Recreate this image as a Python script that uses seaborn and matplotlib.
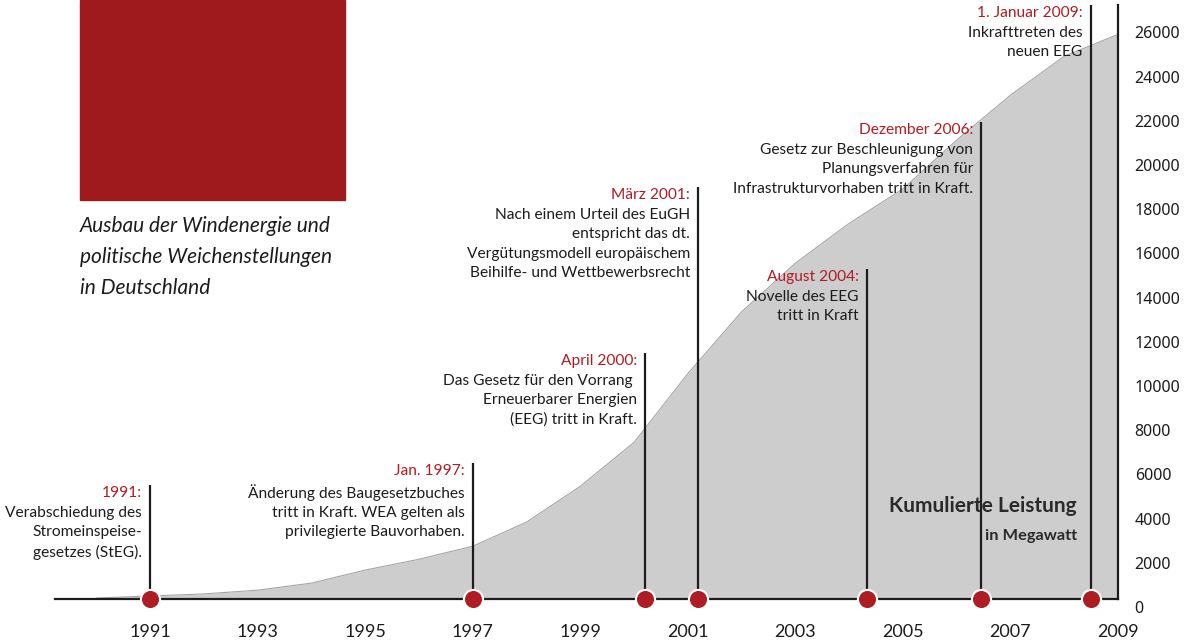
import matplotlib
matplotlib.use('Agg')
import matplotlib.pyplot as plt
import matplotlib.transforms as mtransforms
from matplotlib.patches import Rectangle
import seaborn as sns
import pandas as pd

# cumulative wind capacity (MW)
years = [1990, 1991, 1992, 1993, 1994, 1995, 1996, 1997, 1998, 1999,
         2000, 2001, 2002, 2003, 2004, 2005, 2006, 2007, 2008, 2009]
capacity_mw = [45, 135, 230, 400, 720, 1310, 1800, 2390, 3480, 5100,
               7090, 10200, 13000, 15200, 17000, 18560, 20770, 22800, 24560, 25550]

# policy events: position on the time axis and height of the marker line
event_year = [1991.0, 1997.0, 2000.2, 2001.19, 2004.33, 2006.45, 2008.49]
event_top = [5160, 6150, 11130, 18640, 14930, 21580, 26880]
event_dates = ['1991:', 'Jan. 1997:', 'April 2000:', 'März 2001:',
               'August 2004:', 'Dezember 2006:', '1. Januar 2009:']
event_texts = [
    'Verabschiedung des\nStromeinspeise-\ngesetzes (StEG).',
    'Änderung des Baugesetzbuches\ntritt in Kraft. WEA gelten als\nprivilegierte Bauvorhaben.',
    'Das Gesetz für den Vorrang \nErneuerbarer Energien\n(EEG) tritt in Kraft.',
    'Nach einem Urteil des EuGH\nentspricht das dt.\nVergütungsmodell europäischem\nBeihilfe- und Wettbewerbsrecht',
    'Novelle des EEG\ntritt in Kraft',
    'Gesetz zur Beschleunigung von\nPlanungsverfahren für\nInfrastrukturvorhaben tritt in Kraft.',
    'Inkrafttreten des\nneuen EEG',
]
tick_years = [1991, 1993, 1995, 1997, 1999, 2001, 2003, 2005, 2007, 2009]
y_ticks = list(range(0, 26001, 2000))

RED = '#b01c24'
DARK = '#1c1c1c'

sns.set_theme(style='white')
plt.rcParams['font.family'] = ['Lato', 'DejaVu Sans']

fig = plt.figure(figsize=(11.9, 6.42), dpi=100)
ax = fig.add_axes([55 / 1190, 43 / 642, 1063 / 1190, 594 / 642])

df = pd.DataFrame({'year': years, 'mw': capacity_mw})
ax.fill_between(df['year'], df['mw'], color='#cdcdcd', lw=0, zorder=1)
sns.lineplot(data=df, x='year', y='mw', ax=ax, color='#a5a5a5', lw=0.8, zorder=2)

for x, top in zip(event_year, event_top):
    ax.vlines(x, 0, top, color=DARK, lw=1.6, zorder=3)

ev = pd.DataFrame({'x': event_year, 'y': [0] * len(event_year)})
sns.scatterplot(data=ev, x='x', y='y', ax=ax, s=190, color=RED,
                edgecolor='white', linewidth=1.5, zorder=5, clip_on=False)

for x, top, d, t in zip(event_year, event_top, event_dates, event_texts):
    ax.annotate(d, xy=(x, top), xytext=(-8, -1), textcoords='offset pixels',
                ha='right', va='top', color=RED, fontsize=11.2, annotation_clip=False)
    ax.annotate(t, xy=(x, top), xytext=(-8, -21), textcoords='offset pixels',
                ha='right', va='top', color=DARK, fontsize=11.2, linespacing=1.48,
                annotation_clip=False)

ax.set_xlim(1989.23, 2009.0)
ax.set_ylim(0, 26880)
ax.set_xlabel('')
ax.set_ylabel('')

for s in ['left', 'top']:
    ax.spines[s].set_visible(False)
for s in ['right', 'bottom']:
    ax.spines[s].set_color(DARK)
    ax.spines[s].set_linewidth(1.6)

ax.yaxis.tick_right()
ax.set_yticks(y_ticks)
ax.set_yticklabels([str(v) for v in y_ticks])
ax.tick_params(axis='y', length=0, pad=12, labelsize=11.5, labelcolor=DARK)
shift = mtransforms.ScaledTranslation(0, -8 / 100, fig.dpi_scale_trans)
for lab in ax.get_yticklabels():
    lab.set_fontfamily(['Noto Sans', 'DejaVu Sans'])
    lab.set_transform(lab.get_transform() + shift)

ax.set_xticks(tick_years)
ax.set_xticklabels([str(v) for v in tick_years])
ax.tick_params(axis='x', length=0, pad=18, labelsize=13, labelcolor=DARK)

# title block
fig.patches.append(Rectangle((80 / 1190, 442 / 642), 265 / 1190, 200 / 642,
                             transform=fig.transFigure, color='#9e1a1d', zorder=0))
fig.text(80 / 1190, 1 - 216 / 642,
         'Ausbau der Windenergie und\npolitische Weichenstellungen\nin Deutschland',
         ha='left', va='top', style='italic', fontsize=15, linespacing=1.68, color=DARK)

fig.text(1077 / 1190, 1 - 506 / 642, 'Kumulierte Leistung', ha='right', va='center',
         fontsize=15, fontweight='bold', color='#2a2a2a')
fig.text(1077 / 1190, 1 - 536 / 642, 'in Megawatt', ha='right', va='center',
         fontsize=11.8, fontweight='bold', color='#2a2a2a')

fig.savefig('out.png', dpi=100)
